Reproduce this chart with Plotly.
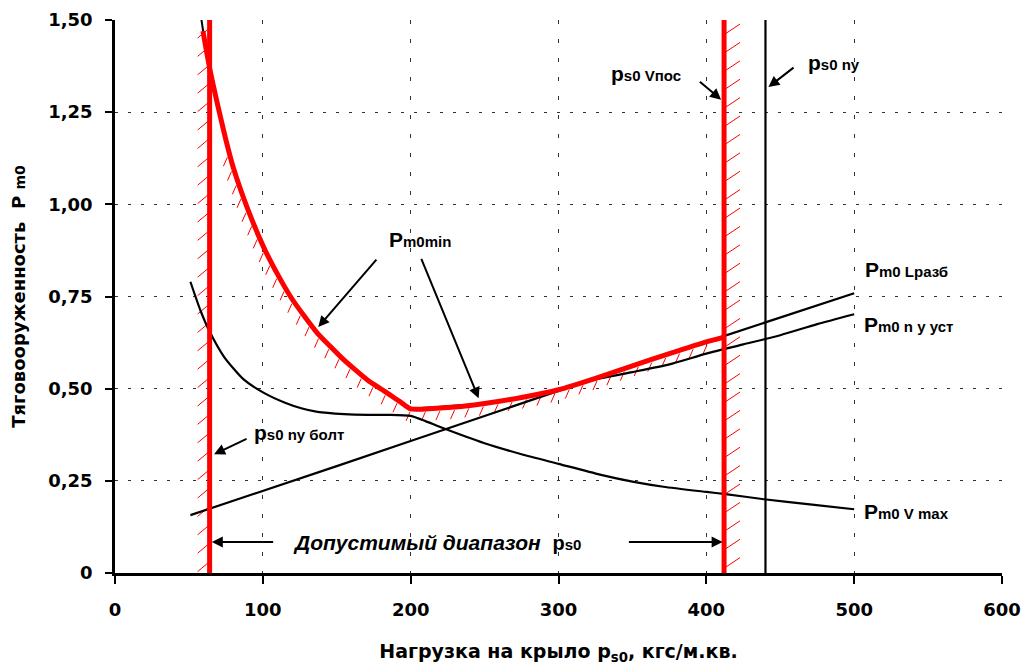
import numpy as np
import plotly.graph_objects as go

# ---------------- data ----------------
x_ticks = [0, 100, 200, 300, 400, 500, 600]
y_ticks = [0, 0.25, 0.5, 0.75, 1.0, 1.25, 1.5]
y_tick_text = ["0", "0,25", "0,50", "0,75", "1,00", "1,25", "1,50"]

# Pm0 V max
vmax_x = [51, 58, 64, 74, 87, 101, 115, 126, 137, 155, 171, 185, 200, 210, 220, 250, 275, 300, 328, 350, 371, 400, 413, 439, 470, 500]
vmax_y = [0.79, 0.71, 0.655, 0.585, 0.525, 0.488, 0.462, 0.447, 0.437, 0.431, 0.429, 0.429, 0.426, 0.412, 0.396, 0.352, 0.322, 0.296, 0.267, 0.248, 0.234, 0.220, 0.214, 0.200, 0.186, 0.173]

# Pm0 L разб
lrazb_x = [51, 100, 150, 200, 250, 300, 350, 400, 450, 500]
lrazb_y = [0.157, 0.222, 0.290, 0.358, 0.426, 0.494, 0.562, 0.627, 0.692, 0.759]

# Pm0 ny уст
nyust_x = [200, 250, 275, 300, 325, 350, 375, 400, 425, 450, 475, 500]
nyust_y = [0.445, 0.460, 0.476, 0.498, 0.525, 0.545, 0.566, 0.595, 0.620, 0.645, 0.675, 0.702]

# take-off curve partly hidden under Pm0min
takeoff_x = [57.0, 58.5, 60, 64, 70, 80]
takeoff_y = [1.54, 1.50, 1.46, 1.37, 1.26, 1.10]

# Pm0 min (envelope)
pmin_x = [59.5, 64, 70, 75, 80, 90, 101, 110, 119, 128, 137, 145, 153, 162, 171, 180, 186, 193, 200,
          215, 230, 250, 275, 300, 325, 350, 375, 400, 412]
pmin_y = [1.47, 1.37, 1.26, 1.175, 1.10, 0.985, 0.88, 0.81, 0.748, 0.697, 0.650, 0.617, 0.585, 0.553, 0.523, 0.499, 0.483, 0.464, 0.445,
          0.446, 0.450, 0.460, 0.476, 0.497, 0.528, 0.562, 0.595, 0.627, 0.640]

# limit lines (wing loading)
ps0_bolt = 64
ps0_vpos = 412
ps0_ny = 440

# ---------------- layout constants ----------------
# (the page body has an 8px default margin, so the figure is sized to fit the window)
W, H = 1024, 657
ML, MR, MT, MB = 107, 30, 12, 92
XR = (0, 600)
YR = (0, 1.5)
SX = (W - ML - MR) / (XR[1] - XR[0])   # px per x unit
SY = (H - MT - MB) / (YR[1] - YR[0])   # px per y unit

RED = "#ff0000"


def to_px(x, y):
    return ML + (np.asarray(x) - XR[0]) * SX, MT + (YR[1] - np.asarray(y)) * SY


def to_data(px, py):
    return XR[0] + (np.asarray(px) - ML) / SX, YR[1] - (np.asarray(py) - MT) / SY


# ---- hatch decoration ----
hx, hy = [], []
step = 18.4
py = MT + 8
lx_px = to_px(ps0_bolt, 0)[0]
while py <= H - MB + 1:
    ax, ay = to_data(lx_px - 12, py + 10)
    bx, by = to_data(lx_px, py)
    hx += [float(ax), float(bx), None]
    hy += [float(ay), float(by), None]
    py += step
py = MT + 14
rx_px = to_px(ps0_vpos, 0)[0]
while py <= H - MB + 4:
    ax, ay = to_data(rx_px + 1, py)
    bx, by = to_data(rx_px + 16, py - 10)
    hx += [float(ax), float(bx), None]
    hy += [float(ay), float(by), None]
    py += step

cx, cy = to_px(pmin_x, pmin_y)
seg = np.hypot(np.diff(cx), np.diff(cy))
s = np.concatenate([[0], np.cumsum(seg)])
fine = np.linspace(0, s[-1], 2000)
fx = np.interp(fine, s, cx)
fy = np.interp(fine, s, cy)
start_px = to_px(78, 0)[0]
si = np.argmin(np.abs(fx - start_px))
pos = fine[si]
while pos < s[-1] - 6:
    i = np.searchsorted(fine, pos)
    i = min(max(i, 3), len(fine) - 4)
    tx, ty = fx[i + 3] - fx[i - 3], fy[i + 3] - fy[i - 3]
    n = np.hypot(tx, ty)
    tx, ty = tx / n, ty / n
    nx, ny = -ty, tx
    p0x, p0y = fx[i] + 3.0 * nx, fy[i] + 3.0 * ny
    p1x, p1y = p0x - 4.0, p0y + 9.0
    a = to_data(p0x, p0y)
    b = to_data(p1x, p1y)
    hx += [float(a[0]), float(b[0]), None]
    hy += [float(a[1]), float(b[1]), None]
    pos += 14.5

fig = go.Figure()

fig.add_trace(go.Scatter(x=hx, y=hy, mode="lines", line=dict(color=RED, width=1),
                         hoverinfo="skip", showlegend=False))
fig.add_trace(go.Scatter(x=vmax_x, y=vmax_y, mode="lines", line=dict(color="black", width=2.2),
                         line_shape="spline", line_smoothing=0.6, name="Pm0 V max", showlegend=False))
fig.add_trace(go.Scatter(x=lrazb_x, y=lrazb_y, mode="lines", line=dict(color="black", width=2.2),
                         name="Pm0 L разб", showlegend=False))
fig.add_trace(go.Scatter(x=nyust_x, y=nyust_y, mode="lines", line=dict(color="black", width=2.2),
                         line_shape="spline", line_smoothing=0.6, name="Pm0 ny уст", showlegend=False))
fig.add_trace(go.Scatter(x=takeoff_x, y=takeoff_y, mode="lines", line=dict(color="black", width=2),
                         showlegend=False))
fig.add_trace(go.Scatter(x=[ps0_ny, ps0_ny], y=[YR[0], YR[1]], mode="lines",
                         line=dict(color="black", width=2.2), showlegend=False))
fig.add_trace(go.Scatter(x=pmin_x, y=pmin_y, mode="lines", line=dict(color=RED, width=5),
                         line_shape="spline", line_smoothing=0.6, name="Pm0min", showlegend=False))
fig.add_trace(go.Scatter(x=[ps0_bolt, ps0_bolt], y=[YR[0], YR[1]], mode="lines",
                         line=dict(color=RED, width=5), showlegend=False))
fig.add_trace(go.Scatter(x=[ps0_vpos, ps0_vpos], y=[YR[0], YR[1]], mode="lines",
                         line=dict(color=RED, width=5), showlegend=False))

AF = "Liberation Sans"
BIG = 21
SM = 15


def lab(p, sub):
    return f"<b>{p}<span style='font-size:{SM}px'>{sub}</span></b>"


annotations = []


def text(x, y, t, xanchor="left", size=BIG, font=AF):
    annotations.append(dict(x=x, y=y, xref="x", yref="y", text=t, showarrow=False,
                            xanchor=xanchor, yanchor="middle",
                            font=dict(family=font, size=size, color="black")))


def arrow(x0, y0, x1, y1):
    annotations.append(dict(x=x1, y=y1, ax=x0, ay=y0, xref="x", yref="y", axref="x", ayref="y",
                            text="", showarrow=True, arrowhead=2, arrowsize=1.1, arrowwidth=2,
                            arrowcolor="black", standoff=0, startstandoff=0))


text(206, 0.905, lab("P", "m0min"), xanchor="center")
arrow(177.7, 0.854, 137.5, 0.667)
arrow(206.8, 0.856, 246, 0.474)

text(93, 0.382, lab("p", "s0 ny болт"))
arrow(90, 0.366, 67, 0.322)

text(359.5, 1.356, lab("p", "s0 Vпос"), xanchor="center")
arrow(394.6, 1.336, 410, 1.284)

text(486.5, 1.384, lab("p", "s0 ny"), xanchor="center")
arrow(460, 1.374, 442, 1.318)

text(506, 0.822, lab("P", "m0 Lразб"))
text(505, 0.673, lab("P", "m0 n y уст"))
text(505, 0.168, lab("P", "m0 V max"))

text(218, 0.084, "<b><i>Допустимый диапазон</i></b>  " +
     "<b><span style='font-size:20px'>p<span style='font-size:15px'>s0</span></span></b>",
     xanchor="center", size=21)
arrow(108, 0.084, 65.5, 0.084)
arrow(346.6, 0.084, 411, 0.084)

TF = dict(family="DejaVu Sans", size=18, color="black", weight="bold")

fig.update_layout(
    width=W, height=H,
    margin=dict(l=ML, r=MR, t=MT, b=MB, pad=0, autoexpand=False),
    paper_bgcolor="white", plot_bgcolor="white",
    annotations=annotations,
    showlegend=False,
    xaxis=dict(
        range=list(XR), tickvals=x_ticks, ticktext=[str(v) for v in x_ticks],
        automargin=False,
        showgrid=True, gridcolor="#333333", gridwidth=1.3, griddash="4px,15px",
        zeroline=False, showline=True, linecolor="black", linewidth=2.5,
        ticks="outside", ticklen=8, tickwidth=2, tickcolor="black",
        tickfont=TF, ticklabelstandoff=11,
        title=dict(text="Нагрузка на крыло p<sub>s0</sub>, кгс/м.кв.",
                   font=dict(family="DejaVu Sans", size=19, color="black", weight="bold"),
                   standoff=29),
    ),
    yaxis=dict(
        range=list(YR), tickvals=y_ticks, ticktext=y_tick_text,
        automargin=False,
        showgrid=True, gridcolor="#333333", gridwidth=1.3, griddash="3px,10px",
        zeroline=False, showline=True, linecolor="black", linewidth=2.5,
        ticks="outside", ticklen=7, tickwidth=2, tickcolor="black",
        tickfont=TF, ticklabelstandoff=9,
        title=dict(text="Тяговооруженность  P <span style='font-size:14px'>m0</span>",
                   font=dict(family="DejaVu Sans", size=18, color="black", weight="bold"),
                   standoff=19),
    ),
)

fig.write_html("out.html")
